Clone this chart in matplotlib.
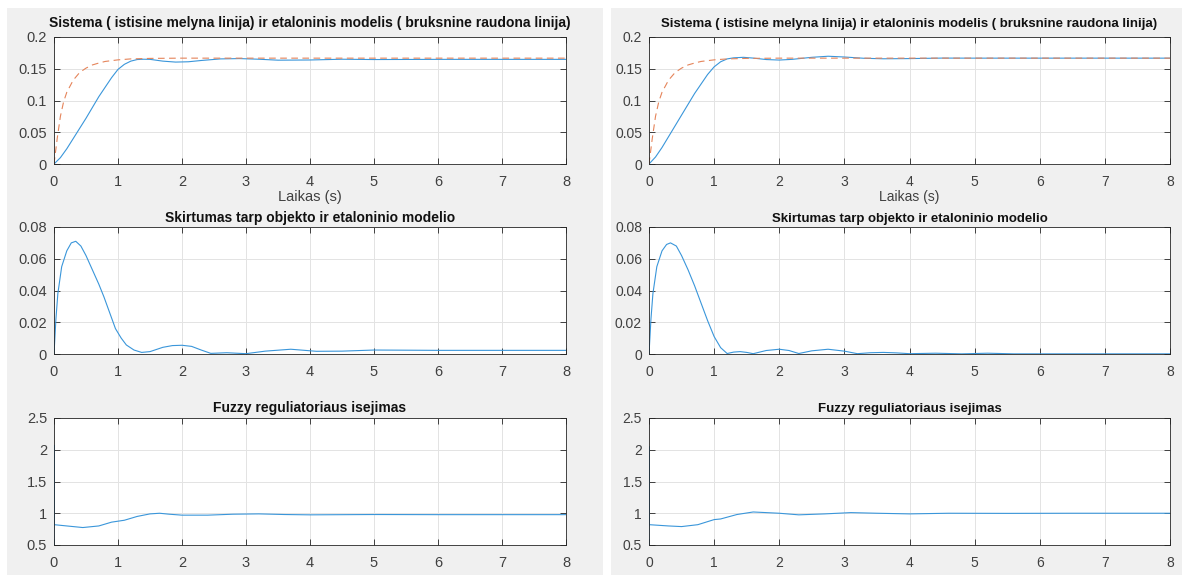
import matplotlib
matplotlib.use("Agg")
import matplotlib.pyplot as plt

plt.rcParams['font.family'] = ['Liberation Sans', 'DejaVu Sans']

# ---------------- data ----------------
# reference model (dashed red), shared by both panels
model_t = [0, 0.05, 0.1, 0.15, 0.2, 0.3, 0.4, 0.5, 0.6, 0.7, 0.8, 1.0, 1.2, 1.5, 2.0, 8.0]
model_y = [0, 0.040, 0.075, 0.098, 0.113, 0.132, 0.144, 0.151, 0.156, 0.159, 0.1615,
           0.164, 0.1655, 0.1663, 0.1667, 0.1667]

# left panel: system output
sysL_t = [0, 0.1, 0.2, 0.3, 0.4, 0.5, 0.6, 0.7, 0.8, 0.9, 1.0, 1.1, 1.2, 1.3, 1.4, 1.5,
          1.7, 1.9, 2.1, 2.3, 2.6, 2.9, 3.2, 3.5, 4.0, 4.5, 5.0, 6.0, 7.0, 8.0]
sysL_y = [0, 0.010, 0.024, 0.040, 0.056, 0.072, 0.089, 0.106, 0.121, 0.136, 0.149, 0.157,
          0.162, 0.1645, 0.165, 0.1648, 0.162, 0.1605, 0.161, 0.163, 0.1655, 0.166, 0.165,
          0.1635, 0.1638, 0.165, 0.1645, 0.1648, 0.1648, 0.1648]

# right panel: system output
sysR_t = [0, 0.1, 0.2, 0.3, 0.4, 0.5, 0.6, 0.7, 0.8, 0.9, 1.0, 1.1, 1.2, 1.3, 1.45, 1.6,
          1.8, 2.0, 2.2, 2.5, 2.75, 3.0, 3.3, 3.6, 4.0, 4.5, 5.0, 6.0, 7.0, 8.0]
sysR_y = [0, 0.011, 0.026, 0.043, 0.060, 0.077, 0.094, 0.111, 0.126, 0.141, 0.153, 0.161,
          0.1655, 0.1672, 0.168, 0.1668, 0.1645, 0.1637, 0.1648, 0.168, 0.1697, 0.1685,
          0.1665, 0.1657, 0.166, 0.1668, 0.1667, 0.1667, 0.1667, 0.1667]

# difference between object and model
diffL_t = [0, 0.03, 0.06, 0.12, 0.2, 0.27, 0.34, 0.42, 0.5, 0.6, 0.7, 0.78, 0.87, 0.96, 1.05,
           1.13, 1.25, 1.37, 1.5, 1.7, 1.85, 2.0, 2.15, 2.3, 2.45, 2.7, 3.0, 3.3, 3.7, 4.1,
           4.5, 5.0, 5.5, 6.0, 7.0, 8.0]
diffL_y = [0, 0.022, 0.038, 0.055, 0.065, 0.070, 0.071, 0.068, 0.062, 0.053, 0.044, 0.036,
           0.026, 0.016, 0.010, 0.0057, 0.0025, 0.001, 0.0015, 0.0042, 0.0053, 0.0055, 0.0048,
           0.0025, 0.0004, 0.0008, 0.0002, 0.0018, 0.003, 0.0017, 0.0018, 0.0025, 0.0024,
           0.0023, 0.0023, 0.0023]

diffR_t = [0, 0.03, 0.06, 0.12, 0.2, 0.27, 0.33, 0.42, 0.5, 0.6, 0.7, 0.8, 0.9, 1.0, 1.1,
           1.2, 1.3, 1.4, 1.5, 1.6, 1.8, 2.0, 2.15, 2.3, 2.5, 2.75, 3.0, 3.2, 3.4, 3.6, 3.8,
           4.0, 4.4, 4.8, 5.2, 5.6, 6.0, 7.0, 8.0]
diffR_y = [0, 0.022, 0.038, 0.055, 0.065, 0.069, 0.070, 0.068, 0.062, 0.053, 0.043, 0.032,
           0.021, 0.011, 0.004, 0.0003, 0.0012, 0.0015, 0.0010, 0.0002, 0.0022, 0.003, 0.0022,
           0.0003, 0.002, 0.003, 0.0018, 0.0002, 0.0008, 0.001, 0.0007, 0.0002, 0.0005, 0.0001,
           0.0005, 0.0001, 0.0001, 0.0001, 0.0001]

# fuzzy controller output
fuzL_t = [0, 0.001, 0.004, 0.2, 0.45, 0.7, 0.9, 1.0, 1.1, 1.3, 1.5, 1.65, 1.8, 2.0, 2.4,
          2.8, 3.2, 3.6, 4.0, 5.0, 6.0, 8.0]
fuzL_y = [0.5, 2.07, 0.82, 0.80, 0.775, 0.80, 0.86, 0.875, 0.89, 0.95, 0.99, 1.0, 0.985,
          0.97, 0.97, 0.985, 0.99, 0.98, 0.975, 0.98, 0.978, 0.978]

fuzR_t = [0, 0.001, 0.004, 0.3, 0.5, 0.75, 1.0, 1.1, 1.35, 1.6, 2.0, 2.3, 2.7, 3.1, 3.5,
          4.0, 4.6, 5.5, 6.5, 8.0]
fuzR_y = [0.5, 2.05, 0.82, 0.80, 0.79, 0.82, 0.90, 0.91, 0.98, 1.02, 1.0, 0.975, 0.99,
          1.01, 1.0, 0.99, 1.0, 0.998, 1.0, 1.0]

title_top = "Sistema ( istisine melyna linija) ir etaloninis modelis ( bruksnine raudona linija)"
title_mid = "Skirtumas tarp objekto ir etaloninio modelio"
title_bot = "Fuzzy reguliatoriaus isejimas"
xlabel_top = "Laikas (s)"

x_ticks = [0, 1, 2, 3, 4, 5, 6, 7, 8]
top_yticks = [0, 0.05, 0.1, 0.15, 0.2]
top_ylabels = ["0", "0.05", "0.1", "0.15", "0.2"]
mid_yticks = [0, 0.02, 0.04, 0.06, 0.08]
mid_ylabels = ["0", "0.02", "0.04", "0.06", "0.08"]
bot_yticks = [0.5, 1, 1.5, 2, 2.5]
bot_ylabels = ["0.5", "1", "1.5", "2", "2.5"]

# ---------------- figure ----------------
W, H = 1186, 575
fig = plt.figure(figsize=(W / 100, H / 100), dpi=100, facecolor='white')

def px_rect(x0, y0, x1, y1):
    return [x0 / W, 1 - y1 / H, (x1 - x0) / W, (y1 - y0) / H]

# gray figure backgrounds as background axes
for (x0, y0, x1, y1) in [(7, 8, 603, 575), (611, 8, 1182, 575)]:
    bg = fig.add_axes(px_rect(x0, y0, x1, y1), zorder=-10)
    bg.set_facecolor('#f0f0f0')
    bg.set_xticks([])
    bg.set_yticks([])
    for s in bg.spines.values():
        s.set_visible(False)

BLUE = '#3a96da'
RED = '#e5845a'
AX = '#262626'
TXT = '#404040'

def style(ax, yticks, ylabels, ylim, title, tsize, lsize, tpad):
    ax.set_xlim(0, 8)
    ax.set_ylim(*ylim)
    ax.set_xticks(x_ticks)
    ax.set_xticklabels([str(v) for v in x_ticks])
    ax.set_yticks(yticks)
    ax.set_yticklabels(ylabels)
    ax.tick_params(direction='in', length=4, width=0.6, top=True, right=True,
                   labelsize=lsize, colors=AX, labelcolor=TXT)
    ax.tick_params(axis='x', pad=8)
    ax.tick_params(axis='y', pad=5)
    ax.grid(True, color='#e3e3e3', linewidth=0.7)
    ax.set_axisbelow(True)
    for s in ax.spines.values():
        s.set_color(AX)
        s.set_linewidth(0.6)
    ax.set_title(title, fontsize=tsize, fontweight='bold', color='#111111', pad=tpad)

panels = [
    dict(x0=54, x1=566, sys=(sysL_t, sysL_y), diff=(diffL_t, diffL_y), fuz=(fuzL_t, fuzL_y),
         tsize=10.0, lsize=10.5),
    dict(x0=649, x1=1170, sys=(sysR_t, sysR_y), diff=(diffR_t, diffR_y), fuz=(fuzR_t, fuzR_y),
         tsize=9.5, lsize=10.0),
]
rows = [(37, 164), (227, 354), (418, 545)]

for p in panels:
    a1 = fig.add_axes(px_rect(p['x0'], rows[0][0], p['x1'], rows[0][1]))
    a1.plot(p['sys'][0], p['sys'][1], color=BLUE, linewidth=0.8)
    a1.plot(model_t, model_y, color=RED, linewidth=0.8, linestyle=(0, (6, 4)))
    style(a1, top_yticks, top_ylabels, (0, 0.2), title_top, p['tsize'], p['lsize'], 7)
    a1.set_xlabel(xlabel_top, fontsize=p['lsize'], color=TXT, labelpad=1)

    a2 = fig.add_axes(px_rect(p['x0'], rows[1][0], p['x1'], rows[1][1]))
    a2.plot(p['diff'][0], p['diff'][1], color=BLUE, linewidth=0.8)
    style(a2, mid_yticks, mid_ylabels, (0, 0.08), title_mid, p['tsize'], p['lsize'], 3.5)

    a3 = fig.add_axes(px_rect(p['x0'], rows[2][0], p['x1'], rows[2][1]))
    a3.plot(p['fuz'][0], p['fuz'][1], color=BLUE, linewidth=0.8)
    style(a3, bot_yticks, bot_ylabels, (0.5, 2.5), title_bot, p['tsize'], p['lsize'], 4)

fig.savefig('out.png', dpi=100, facecolor=fig.get_facecolor())
